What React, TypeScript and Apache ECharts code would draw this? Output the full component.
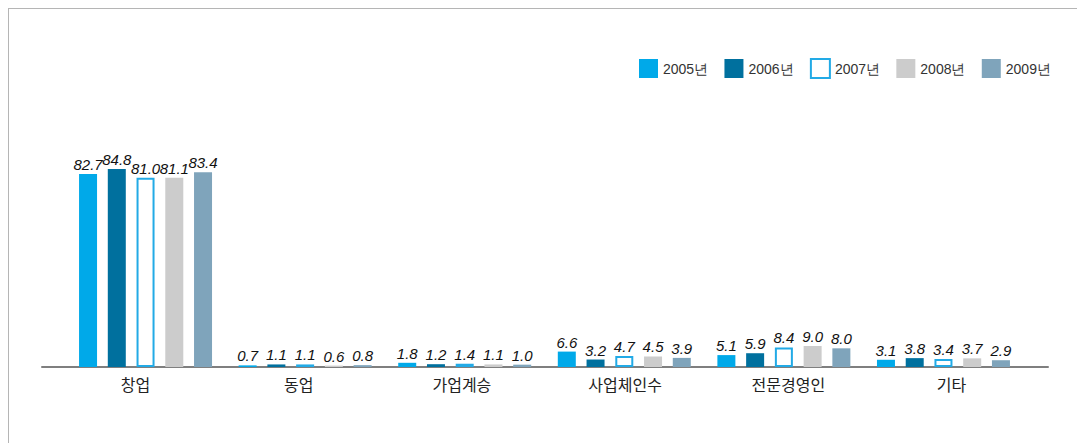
import React, { useEffect, useRef } from "react";
import * as echarts from "echarts";

const categories = ["창업", "동업", "가업계승", "사업체인수", "전문경영인", "기타"];
const years = ["2005년", "2006년", "2007년", "2008년", "2009년"];
const v2005 = [82.7, 0.7, 1.8, 6.6, 5.1, 3.1];
const v2006 = [84.8, 1.1, 1.2, 3.2, 5.9, 3.8];
const v2007 = [81.0, 1.1, 1.4, 4.7, 8.4, 3.4];
const v2008 = [81.1, 0.6, 1.1, 4.5, 9.0, 3.7];
const v2009 = [83.4, 0.8, 1.0, 3.9, 8.0, 2.9];
const seriesValues = [v2005, v2006, v2007, v2008, v2009];

const fills = ["#00a9e9", "#00709e", "#ffffff", "#cccccc", "#7fa4bb"];
const borders = ["#00a9e9", "#00709e", "#22aae6", "#cccccc", "#7fa4bb"];

const SANS = "'Liberation Sans', Arial, sans-serif";

export default function App() {
  const ref = useRef<HTMLDivElement>(null);
  useEffect(() => {
    if (!ref.current) return;
    const chart = echarts.init(ref.current, null, { renderer: "svg" });
    const top = 133.5;
    const bottom = 76;
    const option: any = {
      animation: false,
      backgroundColor: "transparent",
      legend: {
        left: 634,
        top: 53,
        width: 440,
        itemWidth: 19,
        itemHeight: 19,
        itemGap: 16.3,
        icon: "rect",
        data: years,
        textStyle: { fontFamily: SANS, fontSize: 14, color: "#333" },
      },
      grid: [
        { left: 65.75, right: 53.75, top, bottom },
        { left: 53.9, right: 43.9, top, bottom },
        { left: 42, right: 29, top, bottom },
      ],
      xAxis: [
        {
          type: "category",
          gridIndex: 0,
          data: categories,
          axisLine: { show: false },
          axisTick: { show: false },
          axisLabel: { show: false },
        },
        {
          type: "category",
          gridIndex: 1,
          data: categories,
          axisLine: { show: false },
          axisTick: { show: false },
          axisLabel: {
            fontFamily: "'Noto Sans CJK KR', sans-serif",
            fontSize: 16,
            color: "#222",
            margin: 9,
          },
        },
        {
          type: "category",
          gridIndex: 2,
          data: categories,
          axisLine: { show: true, lineStyle: { color: "#7f7f7f", width: 2 } },
          axisTick: { show: false },
          axisLabel: { show: false },
        },
      ],
      yAxis: [0, 1, 2].map((i) => ({
        type: "value",
        gridIndex: i,
        min: 0,
        max: 100,
        show: false,
        splitLine: { show: false },
      })),
      series: years.map((y, i) => ({
        name: y,
        type: "bar",
        xAxisIndex: 0,
        yAxisIndex: 0,
        data: seriesValues[i],
        barWidth: 18,
        barGap: "59.7%",
        itemStyle: {
          color: fills[i],
          borderColor: borders[i],
          borderWidth: i === 2 ? 2 : 0,
        },
        label: {
          show: true,
          position: "top",
          distance: 2,
          fontFamily: SANS,
          fontStyle: "italic",
          fontSize: 15,
          color: "#111",
          formatter: (p: any) => Number(p.value).toFixed(1),
        },
      })),
    };
    chart.setOption(option);
    return () => chart.dispose();
  }, []);
  return (
    <div style={{ position: "fixed", left: 0, top: 0, width: 1077, height: 443, background: "#fff" }}>
      <div
        style={{
          position: "absolute",
          left: 8,
          top: 8,
          right: 0,
          bottom: 0,
          borderLeft: "1px solid #b5b5b5",
          borderTop: "1px solid #b5b5b5",
        }}
      />
      <div ref={ref} style={{ position: "absolute", left: 0, top: 0, width: 1077, height: 443 }} />
    </div>
  );
}
